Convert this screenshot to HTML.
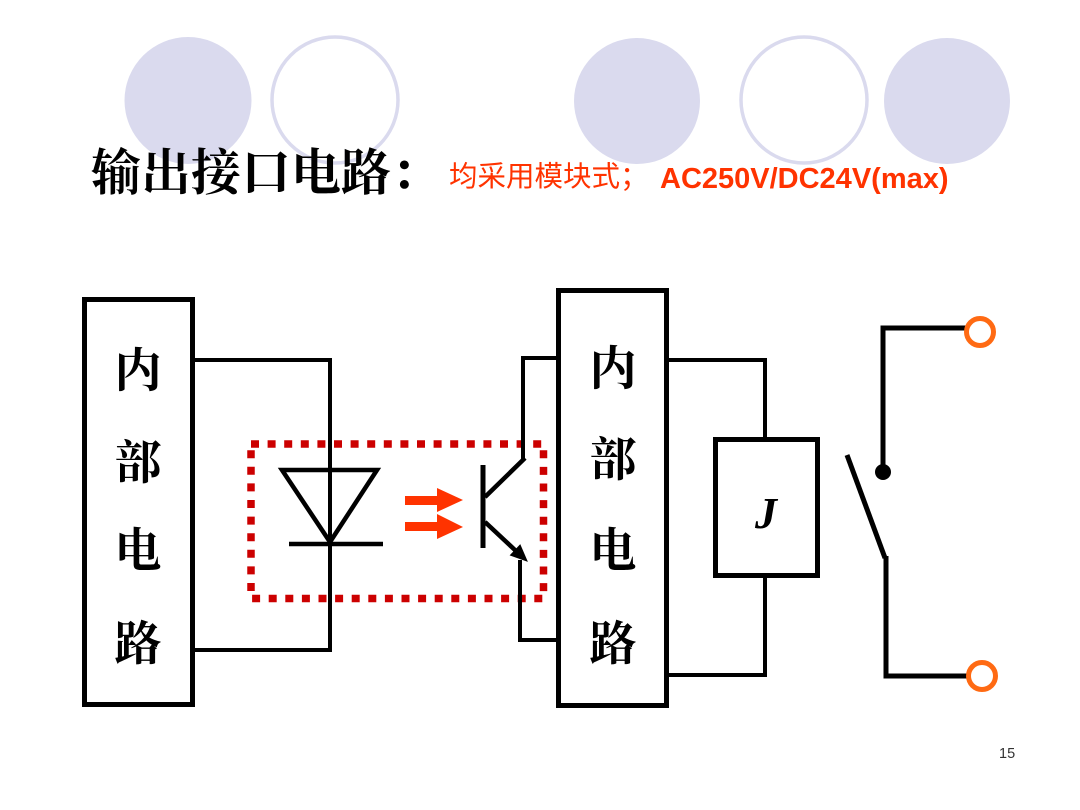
<!DOCTYPE html>
<html>
<head>
<meta charset="utf-8">
<style>
  html, body { margin: 0; padding: 0; background: #fff; }
  svg { display: block; }
</style>
</head>
<body>
<svg width="1080" height="810" viewBox="0 0 1080 810" xmlns="http://www.w3.org/2000/svg">
  <rect x="0" y="0" width="1080" height="810" fill="#fff"/>

  <!-- decorative circles -->
  <circle cx="188" cy="100.5" r="63.5" fill="#DADAEE"/>
  <circle cx="335" cy="100" r="63" fill="none" stroke="#DADAEE" stroke-width="3.5"/>
  <circle cx="637" cy="101" r="63" fill="#DADAEE"/>
  <circle cx="804" cy="100" r="63" fill="none" stroke="#DADAEE" stroke-width="3.5"/>
  <circle cx="947" cy="101" r="63" fill="#DADAEE"/>

  <!-- title -->
  <text x="91" y="190" font-family="'Liberation Serif','Noto Serif CJK SC',serif" font-weight="bold" font-size="50" fill="#000">输出接口电路：</text>
  <text x="449" y="186" font-family="'Liberation Sans','Noto Sans CJK SC',sans-serif" font-size="28.5" fill="#FF3300">均采用模块式；</text>
  <text x="660" y="188" font-family="'Liberation Sans',sans-serif" font-weight="bold" font-size="29" fill="#FF3300">AC250V/DC24V(max)</text>

  <!-- left box -->
  <rect x="84.5" y="299.5" width="108" height="405" fill="none" stroke="#000" stroke-width="5"/>
  <g font-family="'Liberation Serif','Noto Serif CJK SC',serif" font-weight="bold" font-size="47" fill="#000" text-anchor="middle">
    <text x="138" y="387">内</text>
    <text x="138" y="479">部</text>
    <text x="138" y="567">电</text>
    <text x="138" y="660">路</text>
  </g>

  <!-- left wires -->
  <polyline points="195,360 330,360 330,650 195,650" fill="none" stroke="#000" stroke-width="4"/>

  <!-- dashed optocoupler box -->
  <rect x="251" y="444" width="292.5" height="154.5" fill="none" stroke="#CC0000" stroke-width="7.5" stroke-dasharray="8 8.6"/>

  <!-- diode -->
  <polygon points="282,470 377,470 330,542" fill="none" stroke="#000" stroke-width="4.5" stroke-linejoin="miter"/>
  <line x1="289" y1="544" x2="383" y2="544" stroke="#000" stroke-width="4.5"/>

  <!-- light arrows -->
  <g fill="#FF3300">
    <rect x="405" y="496" width="33" height="9"/>
    <polygon points="437,488 463,500 437,512"/>
    <rect x="405" y="522" width="33" height="9"/>
    <polygon points="437,514 463,527 437,539"/>
  </g>

  <!-- phototransistor -->
  <line x1="483" y1="465" x2="483" y2="548" stroke="#000" stroke-width="5"/>
  <line x1="485" y1="497" x2="525" y2="458" stroke="#000" stroke-width="4.5"/>
  <polyline points="523,460 523,358 556,358" fill="none" stroke="#000" stroke-width="4"/>
  <line x1="485" y1="522" x2="516" y2="551" stroke="#000" stroke-width="4.5"/>
  <polygon points="527,561 510.5,555.2 520.1,545" fill="#000" stroke="#000" stroke-width="1"/>
  <polyline points="520,560 520,640 556,640" fill="none" stroke="#000" stroke-width="4"/>

  <!-- right box -->
  <rect x="558.5" y="290.5" width="108" height="415" fill="none" stroke="#000" stroke-width="5"/>
  <g font-family="'Liberation Serif','Noto Serif CJK SC',serif" font-weight="bold" font-size="47" fill="#000" text-anchor="middle">
    <text x="613" y="385">内</text>
    <text x="613" y="476">部</text>
    <text x="613" y="567">电</text>
    <text x="613" y="660">路</text>
  </g>

  <!-- relay coil wiring -->
  <polyline points="669,360 765,360 765,439" fill="none" stroke="#000" stroke-width="4"/>
  <polyline points="765,577 765,675 669,675" fill="none" stroke="#000" stroke-width="4"/>
  <rect x="715.5" y="439.5" width="102" height="136" fill="none" stroke="#000" stroke-width="5"/>
  <text x="766" y="528" font-family="'Liberation Serif',serif" font-style="italic" font-weight="bold" font-size="44" fill="#000" text-anchor="middle">J</text>

  <!-- switch -->
  <polyline points="967,328 883,328 883,472" fill="none" stroke="#000" stroke-width="5"/>
  <circle cx="883" cy="472" r="8" fill="#000"/>
  <line x1="847" y1="455" x2="885" y2="558" stroke="#000" stroke-width="5"/>
  <polyline points="886,556 886,676 969,676" fill="none" stroke="#000" stroke-width="5"/>

  <!-- terminals -->
  <circle cx="980" cy="332" r="13.5" fill="#fff" stroke="#FF6A13" stroke-width="5"/>
  <circle cx="982" cy="676" r="13.5" fill="#fff" stroke="#FF6A13" stroke-width="5"/>

  <!-- page number -->
  <text x="999" y="758" font-family="'Liberation Sans',sans-serif" font-size="14.5" fill="#333">15</text>
</svg>
</body>
</html>
